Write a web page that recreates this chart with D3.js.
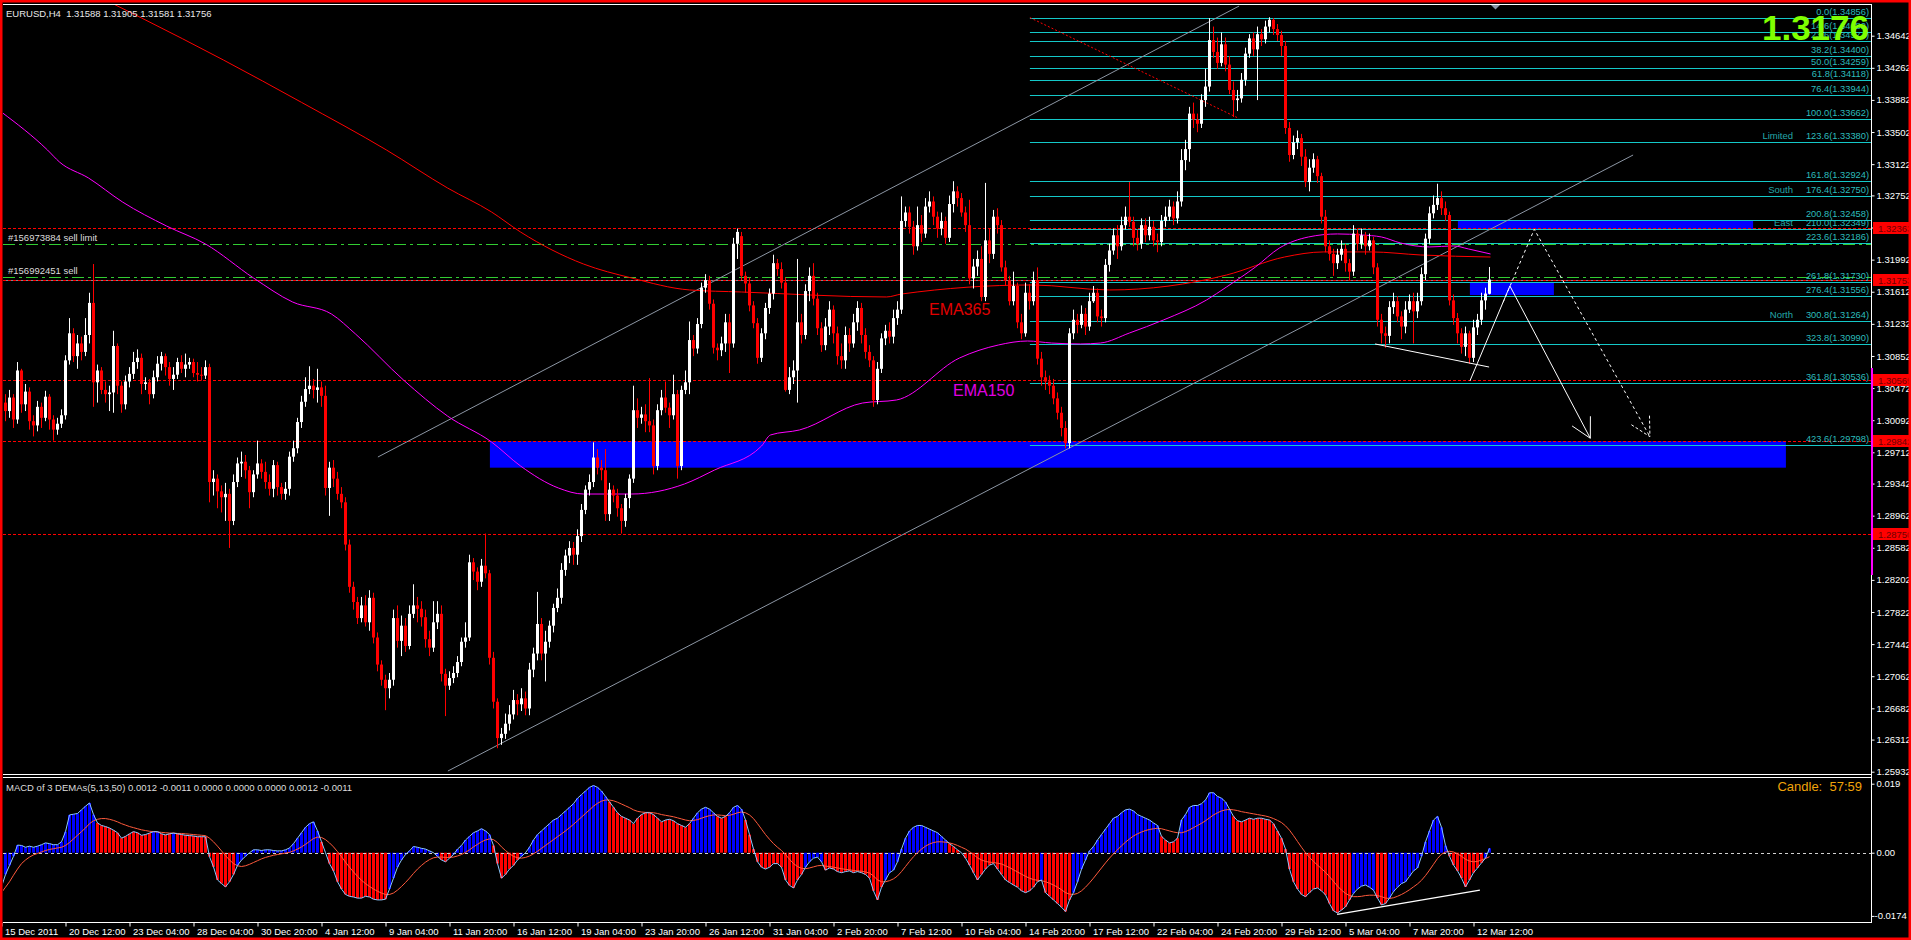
<!DOCTYPE html>
<html><head><meta charset="utf-8">
<script src="https://cdn.jsdelivr.net/npm/d3@7"></script>
<style>html,body{margin:0;padding:0;background:#000;overflow:hidden}text{font-family:"Liberation Sans",Arial,sans-serif}</style>
</head><body>
<svg id="c" width="1911" height="940"></svg>
<script>
// ---------------- DATA ----------------
const symbolHeader = "EURUSD,H4  1.31588 1.31905 1.31581 1.31756";
const opens = [
1.3012,1.3030,1.3020,1.3036,1.3010,1.3068,1.3028,1.3043,1.3008,1.3003,
1.3025,1.3012,1.3037,1.3010,1.2998,1.3005,1.3015,1.3080,1.3112,1.3085,
1.3100,1.3090,1.3110,1.3148,1.3054,1.3068,1.3045,1.3040,1.3042,1.3097,
1.3050,1.3028,1.3055,1.3064,1.3078,1.3083,1.3052,1.3054,1.3040,1.3060,
1.3076,1.3085,1.3072,1.3058,1.3063,1.3078,1.3070,1.3075,1.3078,1.3065,
1.3063,1.3062,1.3072,1.2936,1.2940,1.2925,1.2918,1.2922,1.2890,1.2936,
1.2958,1.2960,1.2950,1.2924,1.2945,1.2958,1.2948,1.2936,1.2928,1.2956,
1.2930,1.2922,1.2928,1.2966,1.2976,1.3007,1.3031,1.3046,1.3050,1.3045,
1.3048,1.3038,1.2929,1.2953,1.2940,1.2922,1.2912,1.2862,1.2812,1.2794,
1.2775,1.2790,1.2770,1.2799,1.2752,1.2720,1.2702,1.2692,1.2702,1.2775,
1.2748,1.2766,1.2742,1.2780,1.2790,1.2786,1.2776,1.2750,1.2740,1.2770,
1.2780,1.2709,1.2695,1.2704,1.2710,1.2723,1.2747,1.2752,1.2841,1.2830,
1.2818,1.2837,1.2828,1.2728,1.2676,1.2633,1.2638,1.2650,1.2661,1.2678,
1.2673,1.2680,1.2668,1.2714,1.2733,1.2768,1.2733,1.2747,1.2766,1.2787,
1.2799,1.2832,1.2849,1.2858,1.2850,1.2872,1.2903,1.2927,1.2936,1.2965,
1.2953,1.2950,1.2898,1.2927,1.2920,1.2905,1.2890,1.2917,1.2940,1.3021,
1.3012,1.3016,1.3008,1.3003,1.2955,1.3021,1.3036,1.3024,1.3015,1.3040,
1.2955,1.3045,1.3054,1.3104,1.3094,1.3123,1.3166,1.3175,1.3147,1.3095,
1.3092,1.3100,1.3125,1.3100,1.3218,
1.3227,1.3180,1.3171,1.3145,1.3124,1.3083,1.3112,1.3142,1.3159,1.3195,
1.3188,1.3172,1.3045,1.3060,1.3068,1.3125,1.3110,1.3162,1.3180,1.3153,
1.3118,1.3098,1.3120,1.3140,1.3112,1.3085,1.3080,1.3110,1.3100,1.3125,
1.3142,1.3110,1.3090,1.3080,1.3033,1.3070,1.3106,1.3115,1.3108,1.3130,
1.3140,1.3245,1.3255,1.3238,1.3215,1.3240,1.3230,1.3262,1.3268,1.3250,
1.3236,1.3245,1.3225,1.3265,1.3280,1.3272,1.3255,1.3240,1.3177,1.3191,
1.3200,1.3155,1.3222,1.3206,1.3250,1.3240,1.3190,1.3175,1.3150,1.3168,
1.3125,1.3112,1.3160,1.3150,1.3175,1.3082,1.3060,1.3055,1.3050,1.3035,
1.3018,1.3000,1.2982,1.3112,1.3128,1.3122,1.3135,1.3120,1.3150,1.3160,
1.3132,1.3130,1.3193,1.3210,1.3228,1.3215,1.3240,1.3250,1.3244,1.3225,
1.3218,1.3240,1.3228,1.3238,1.3222,1.3220,1.3245,1.3250,1.3262,1.3248,
1.3268,1.3317,1.3330,1.3372,1.3365,1.3360,1.3388,1.3404,1.3459,1.3445,
1.3432,1.3454,1.3430,1.3400,1.3388,1.3390,1.3412,1.3443,1.3461,1.3448,
1.3466,1.3460,1.3475,1.3483,1.3472,1.3465,1.3452,1.3355,1.3323,1.3338,
1.3343,1.3321,1.3291,1.3308,1.3318,1.3298,1.3250,1.3215,1.3206,1.3195,
1.3205,1.3212,1.3195,1.3185,1.3230,1.3218,1.3228,1.3215,1.3222,1.3190,
1.3128,1.3112,1.3109,1.3143,1.3150,1.3132,1.3120,1.3140,1.3150,1.3138,
1.3150,1.3182,1.3224,1.3254,1.3264,1.3272,1.3260,1.3252,1.3151,1.3130,
1.3112,1.3096,1.3112,1.3083,1.3119,1.3128,1.3151,1.31588];
const highs = [
1.3042,1.3040,1.3045,1.3040,1.3078,1.3070,1.3052,1.3048,1.3015,1.3032,
1.3030,1.3044,1.3040,1.3015,1.3012,1.3022,1.3086,1.3130,1.3118,1.3110,
1.3108,1.3130,1.3160,1.3194,1.3075,1.3072,1.3055,1.3050,1.3115,1.3100,
1.3055,1.3062,1.3072,1.3090,1.3093,1.3088,1.3060,1.3058,1.3068,1.3085,
1.3090,1.3088,1.3078,1.3072,1.3083,1.3086,1.3088,1.3083,1.3082,1.3078,
1.3072,1.3080,1.3076,1.2950,1.2945,1.2932,1.2935,1.2928,1.2945,1.2965,
1.2972,1.2968,1.2955,1.2950,1.2985,1.2963,1.2960,1.2945,1.2962,1.2960,
1.2935,1.2936,1.2972,1.2985,1.3012,1.3038,1.3060,1.3073,1.3058,1.3070,
1.3055,1.3050,1.2960,1.2962,1.2948,1.2930,1.2918,1.2868,1.2818,1.2800,
1.2800,1.2802,1.2808,1.2805,1.2758,1.2725,1.2708,1.2710,1.2785,1.2790,
1.2778,1.2775,1.2790,1.2815,1.2800,1.2795,1.2785,1.2760,1.2795,1.2795,
1.2790,1.2715,1.2712,1.2718,1.2730,1.2752,1.2770,1.2850,1.2846,1.2835,
1.2845,1.2875,1.2832,1.2735,1.2680,1.2645,1.2662,1.2672,1.2690,1.2685,
1.2692,1.2688,1.2722,1.2740,1.2806,1.2775,1.2760,1.2772,1.2792,1.2810,
1.2840,1.2856,1.2866,1.2865,1.2880,1.2910,1.2932,1.2945,1.2983,1.2975,
1.2962,1.2975,1.2935,1.2932,1.2928,1.2910,1.2922,1.2945,1.3050,1.3035,
1.3025,1.3028,1.3059,1.3010,1.3028,1.3045,1.3055,1.3030,1.3063,1.3045,
1.3050,1.3068,1.3126,1.3110,1.3130,1.3172,1.3182,1.3180,1.3152,1.3100,
1.3108,1.3135,1.3135,1.3225,1.3236,
1.3232,1.3185,1.3178,1.3150,1.3130,1.3118,1.3148,1.3165,1.3205,1.3200,
1.3196,1.3178,1.3072,1.3080,1.3200,1.3135,1.3170,1.3190,1.3195,1.3160,
1.3125,1.3130,1.3150,1.3145,1.3120,1.3100,1.3120,1.3118,1.3135,1.3150,
1.3148,1.3118,1.3098,1.3085,1.3078,1.3112,1.3122,1.3125,1.3140,1.3150,
1.3274,1.3262,1.3262,1.3245,1.3262,1.3252,1.3272,1.3280,1.3274,1.3256,
1.3255,1.3250,1.3275,1.3292,1.3286,1.3278,1.3262,1.3270,1.3200,1.3210,
1.3215,1.3290,1.3236,1.3258,1.3260,1.3246,1.3198,1.3180,1.3185,1.3172,
1.3135,1.3172,1.3170,1.3185,1.3190,1.3090,1.3068,1.3062,1.3058,1.3042,
1.3025,1.3008,1.3118,1.3140,1.3135,1.3145,1.3142,1.3160,1.3168,1.3165,
1.3140,1.3200,1.3218,1.3236,1.3240,1.3250,1.3262,1.3291,1.3250,1.3235,
1.3248,1.3248,1.3250,1.3245,1.3230,1.3252,1.3262,1.3270,1.3268,1.3280,
1.3330,1.3341,1.3380,1.3385,1.3372,1.3395,1.3425,1.3485,1.3475,1.3462,
1.3468,1.3462,1.3440,1.3410,1.3400,1.3420,1.3450,1.3466,1.3468,1.3475,
1.3472,1.3482,1.3486,1.3485,1.3478,1.3470,1.3458,1.3362,1.3346,1.3352,
1.3348,1.3330,1.3318,1.3325,1.3322,1.3302,1.3258,1.3222,1.3212,1.3212,
1.3222,1.3218,1.3200,1.3240,1.3236,1.3236,1.3232,1.3230,1.3226,1.3195,
1.3135,1.3120,1.3150,1.3160,1.3156,1.3138,1.3150,1.3158,1.3160,1.3160,
1.3190,1.3230,1.3262,1.3275,1.3289,1.3280,1.3268,1.3256,1.3158,1.3136,
1.3118,1.3120,1.3115,1.3128,1.3135,1.3160,1.3166,1.31905];
const lows = [
1.3000,1.3008,1.3012,1.3000,1.3005,1.3018,1.3020,1.2998,1.2990,1.2996,
1.3000,1.3008,1.2998,1.2985,1.2992,1.3000,1.3010,1.3075,1.3078,1.3070,
1.3080,1.3085,1.3100,1.3025,1.3030,1.3040,1.3030,1.3020,1.3018,1.3040,
1.3018,1.3022,1.3048,1.3058,1.3070,1.3040,1.3045,1.3028,1.3035,1.3055,
1.3068,1.3062,1.3050,1.3045,1.3058,1.3065,1.3060,1.3070,1.3060,1.3055,
1.3056,1.3058,1.2912,1.2920,1.2905,1.2900,1.2890,1.2858,1.2885,1.2930,
1.2942,1.2940,1.2905,1.2918,1.2940,1.2940,1.2928,1.2920,1.2918,1.2920,
1.2915,1.2915,1.2920,1.2960,1.2970,1.3000,1.3025,1.3040,1.3035,1.3030,
1.3025,1.2920,1.2896,1.2930,1.2915,1.2905,1.2855,1.2805,1.2785,1.2768,
1.2770,1.2765,1.2760,1.2745,1.2712,1.2695,1.2666,1.2680,1.2695,1.2740,
1.2730,1.2735,1.2738,1.2775,1.2770,1.2765,1.2740,1.2730,1.2735,1.2762,
1.2700,1.2659,1.2690,1.2698,1.2705,1.2718,1.2740,1.2748,1.2820,1.2808,
1.2812,1.2822,1.2720,1.2668,1.2621,1.2625,1.2632,1.2642,1.2655,1.2660,
1.2665,1.2660,1.2660,1.2705,1.2725,1.2725,1.2700,1.2740,1.2758,1.2782,
1.2792,1.2825,1.2840,1.2838,1.2838,1.2865,1.2898,1.2920,1.2930,1.2945,
1.2938,1.2890,1.2890,1.2912,1.2895,1.2875,1.2883,1.2905,1.2935,1.3000,
1.3005,1.2995,1.2995,1.2945,1.2950,1.3015,1.3018,1.3000,1.3010,1.2940,
1.2950,1.3040,1.3040,1.3085,1.3088,1.3118,1.3160,1.3140,1.3088,1.3080,
1.3085,1.3090,1.3065,1.3095,1.3200,
1.3175,1.3160,1.3138,1.3118,1.3076,1.3078,1.3105,1.3135,1.3152,1.3180,
1.3165,1.3043,1.3040,1.3052,1.3030,1.3100,1.3105,1.3150,1.3145,1.3110,
1.3090,1.3092,1.3110,1.3100,1.3075,1.3070,1.3070,1.3090,1.3095,1.3115,
1.3100,1.3082,1.3072,1.3025,1.3028,1.3065,1.3098,1.3100,1.3100,1.3122,
1.3135,1.3238,1.3230,1.3205,1.3210,1.3220,1.3225,1.3255,1.3240,1.3225,
1.3228,1.3218,1.3220,1.3255,1.3262,1.3250,1.3232,1.3170,1.3165,1.3180,
1.3150,1.3150,1.3195,1.3200,1.3230,1.3185,1.3168,1.3145,1.3145,1.3118,
1.3105,1.3108,1.3140,1.3145,1.3075,1.3050,1.3045,1.3040,1.3028,1.3010,
1.2990,1.2976,1.2976,1.3105,1.3112,1.3118,1.3110,1.3115,1.3148,1.3125,
1.3120,1.3125,1.3185,1.3205,1.3200,1.3210,1.3235,1.3238,1.3215,1.3210,
1.3212,1.3220,1.3222,1.3215,1.3208,1.3215,1.3238,1.3245,1.3240,1.3242,
1.3262,1.3305,1.3315,1.3355,1.3350,1.3355,1.3380,1.3398,1.3438,1.3425,
1.3428,1.3422,1.3395,1.3368,1.3375,1.3385,1.3405,1.3438,1.3440,1.3388,
1.3452,1.3455,1.3468,1.3465,1.3458,1.3440,1.3348,1.3315,1.3318,1.3330,
1.3310,1.3285,1.3280,1.3302,1.3290,1.3242,1.3208,1.3198,1.3180,1.3188,
1.3198,1.3185,1.3175,1.3180,1.3210,1.3212,1.3205,1.3210,1.3182,1.3120,
1.3100,1.3095,1.3100,1.3135,1.3125,1.3105,1.3112,1.3136,1.3100,1.3130,
1.3145,1.3175,1.3218,1.3248,1.3258,1.3252,1.3245,1.3145,1.3122,1.3100,
1.3088,1.3085,1.3076,1.3078,1.3110,1.3122,1.3140,1.31581];
const closes = [
1.3030,1.3020,1.3036,1.3010,1.3068,1.3028,1.3043,1.3008,1.3003,1.3025,
1.3012,1.3037,1.3010,1.2998,1.3005,1.3015,1.3080,1.3112,1.3085,1.3100,
1.3090,1.3110,1.3148,1.3054,1.3068,1.3045,1.3040,1.3042,1.3097,1.3050,
1.3028,1.3055,1.3064,1.3078,1.3083,1.3052,1.3054,1.3040,1.3060,1.3076,
1.3085,1.3072,1.3058,1.3063,1.3078,1.3070,1.3075,1.3078,1.3065,1.3063,
1.3062,1.3072,1.2936,1.2940,1.2925,1.2918,1.2922,1.2890,1.2936,1.2958,
1.2960,1.2950,1.2924,1.2945,1.2958,1.2948,1.2936,1.2928,1.2956,1.2930,
1.2922,1.2928,1.2966,1.2976,1.3007,1.3031,1.3046,1.3050,1.3045,1.3048,
1.3038,1.2929,1.2953,1.2940,1.2922,1.2912,1.2862,1.2812,1.2794,1.2775,
1.2790,1.2770,1.2799,1.2752,1.2720,1.2702,1.2692,1.2702,1.2775,1.2748,
1.2766,1.2742,1.2780,1.2790,1.2786,1.2776,1.2750,1.2740,1.2770,1.2780,
1.2709,1.2695,1.2704,1.2710,1.2723,1.2747,1.2752,1.2841,1.2830,1.2818,
1.2837,1.2828,1.2728,1.2676,1.2633,1.2638,1.2650,1.2661,1.2678,1.2673,
1.2680,1.2668,1.2714,1.2733,1.2768,1.2733,1.2747,1.2766,1.2787,1.2799,
1.2832,1.2849,1.2858,1.2850,1.2872,1.2903,1.2927,1.2936,1.2965,1.2953,
1.2950,1.2898,1.2927,1.2920,1.2905,1.2890,1.2917,1.2940,1.3021,1.3012,
1.3016,1.3008,1.3003,1.2955,1.3021,1.3036,1.3024,1.3015,1.3040,1.2955,
1.3045,1.3054,1.3104,1.3094,1.3123,1.3166,1.3175,1.3147,1.3095,1.3092,
1.3100,1.3125,1.3100,1.3218,1.3232,
1.3180,1.3171,1.3145,1.3124,1.3083,1.3112,1.3142,1.3159,1.3195,1.3188,
1.3172,1.3045,1.3060,1.3068,1.3125,1.3110,1.3162,1.3180,1.3153,1.3118,
1.3098,1.3120,1.3140,1.3112,1.3085,1.3080,1.3110,1.3100,1.3125,1.3142,
1.3110,1.3090,1.3080,1.3033,1.3070,1.3106,1.3115,1.3108,1.3130,1.3140,
1.3245,1.3255,1.3238,1.3215,1.3240,1.3230,1.3262,1.3268,1.3250,1.3236,
1.3245,1.3225,1.3265,1.3280,1.3272,1.3255,1.3240,1.3177,1.3191,1.3200,
1.3155,1.3222,1.3206,1.3250,1.3240,1.3190,1.3175,1.3150,1.3168,1.3125,
1.3112,1.3160,1.3150,1.3175,1.3082,1.3060,1.3055,1.3050,1.3035,1.3018,
1.3000,1.2982,1.3112,1.3128,1.3122,1.3135,1.3120,1.3150,1.3160,1.3132,
1.3130,1.3193,1.3210,1.3228,1.3215,1.3240,1.3250,1.3244,1.3225,1.3218,
1.3240,1.3228,1.3238,1.3222,1.3220,1.3245,1.3250,1.3262,1.3248,1.3268,
1.3317,1.3330,1.3372,1.3365,1.3360,1.3388,1.3404,1.3459,1.3445,1.3432,
1.3454,1.3430,1.3400,1.3388,1.3390,1.3412,1.3443,1.3461,1.3448,1.3466,
1.3460,1.3475,1.3483,1.3472,1.3465,1.3452,1.3355,1.3323,1.3338,1.3343,
1.3321,1.3291,1.3308,1.3318,1.3298,1.3250,1.3215,1.3206,1.3195,1.3205,
1.3212,1.3195,1.3185,1.3230,1.3218,1.3228,1.3215,1.3222,1.3190,1.3128,
1.3112,1.3109,1.3143,1.3150,1.3132,1.3120,1.3140,1.3150,1.3138,1.3150,
1.3182,1.3224,1.3254,1.3264,1.3272,1.3260,1.3252,1.3151,1.3130,1.3112,
1.3096,1.3112,1.3083,1.3119,1.3128,1.3151,1.3159,1.31756];

// MACD of 3 DEMAs (5,13,50): values in units of 0.0001
const macdMainE4 = [
-94,-60,-35,-10,21,20,15,18,15,18, 22,27,25,22,22,30,58,104,106,108,
118,128,137,105,82,75,72,68,62,55, 40,45,52,58,55,48,50,54,58,58,
52,49,52,54,52,50,48,47,46,44, 44,44,-11,-39,-75,-85,-94,-80,-60,-35,
-20,-10,0,8,8,6,8,8,6,5, 5,8,13,25,40,55,70,80,85,60,
30,0,-30,-50,-80,-100,-115,-120,-122,-125, -125,-120,-122,-128,-130,-130,-128,-100,-70,-40,
-20,-5,5,17,15,12,10,5,0,-10, -20,-25,-15,-5,10,20,35,45,55,60,
66,60,50,20,-30,-70,-60,-45,-35,-20, -10,0,15,35,50,60,70,80,90,95,
105,115,125,135,150,160,170,180,185,180, 170,155,140,125,110,100,95,90,80,95,
105,110,110,105,95,85,90,92,88,80, 75,70,80,95,110,120,125,120,110,100,
95,100,110,125,130, 120,90,50,10,-25,
-40,-45,-40,-30,-30,-40,-75,-90,-97,-75, -60,-40,-25,-15,-12,-25,-48,-42,-45,-52,
-55,-52,-50,-55,-52,-55,-60,-70,-105,-130, -95,-75,-55,-48,-25,10,40,60,70,75,
75,70,65,60,55,45,35,25,17,8, 0,-15,-34,-55,-75,-60,-45,-34,-30,-45,
-60,-75,-82,-89,-95,-105,-110,-105,-95,-80, -75,-110,-120,-130,-140,-150,-162,-130,-110,-80,
-45,-20,5,17,35,50,65,80,95,100, 110,118,120,115,105,100,95,90,82,75,
45,35,27,30,40,90,105,125,130,130, 135,145,165,165,155,150,140,120,100,88,
85,90,95,92,95,95,92,90,80,60, 40,10,-45,-80,-100,-115,-121,-110,-100,-97,
-105,-116,-140,-160,-166,-158,-149,-130,-112,-100, -92,-89,-95,-103,-125,-144,-140,-125,-107,-95,
-85,-80,-65,-50,-42,-10,30,60,90,100, 70,20,-10,-34,-50,-70,-94,-75,-55,-42,
-28,-15,12];
const macdSignalE4 = [
-110,-95,-80,-62,-45,-30,-20,-12,-6,-2, 2,6,9,11,13,15,20,28,38,48,
58,68,80,88,92,94,94,92,89,85, 80,76,72,69,66,63,61,59,58,57,
56,55,54,54,53,53,52,51,50,49, 48,47,40,30,18,5,-8,-20,-30,-36,
-38,-36,-32,-27,-22,-17,-13,-10,-7,-5, -3,-1,1,5,10,16,23,31,39,43,
42,36,27,16,3,-11,-26,-40,-53,-65, -76,-85,-93,-100,-106,-111,-115,-115,-111,-103,
-93,-82,-70,-57,-45,-35,-26,-19,-14,-12, -12,-13,-13,-12,-9,-5,1,8,16,23,
30,35,38,36,28,16,6,-3,-10,-14, -15,-13,-9,-3,4,12,20,28,36,44,
52,60,69,78,88,98,108,118,128,136, 142,145,145,143,139,134,129,124,118,114,
112,111,111,110,108,105,103,101,99,96, 93,90,88,89,91,95,99,102,104,104,
103,102,103,106,110, 112,110,104,94,80,
65,50,37,25,15,6,-5,-18,-30,-38, -43,-44,-42,-39,-36,-35,-37,-38,-40,-42,
-44,-46,-47,-49,-50,-51,-53,-56,-64,-75, -80,-80,-77,-72,-64,-52,-38,-24,-11,0,
10,18,24,28,30,30,29,27,24,20, 15,10,3,-5,-14,-20,-24,-26,-27,-29,
-31,-36,-41,-47,-53,-59,-65,-70,-74,-76, -77,-80,-84,-89,-95,-102,-110,-114,-115,-112,
-105,-95,-83,-70,-56,-42,-28,-15,-3,8, 19,29,38,46,52,57,61,64,66,67,
66,63,60,57,55,55,58,63,69,75, 81,88,96,104,110,115,118,119,118,116,
113,111,109,107,105,103,101,98,94,89, 83,74,62,47,31,15,0,-13,-24,-34,
-44,-54,-66,-79,-92,-103,-112,-118,-121,-121, -120,-118,-117,-117,-118,-121,-125,-126,-124,-120,
-115,-109,-102,-94,-86,-76,-63,-48,-32,-16, -4,2,4,2,-3,-10,-18,-23,-25,-24,
-20,-16,-11];
const macdTitle = "MACD of 3 DEMAs(5,13,50) 0.0012 -0.0011 0.0000 0.0000 0.0000 0.0012 -0.0011";

// Moving averages, sampled points (bar index, price)
const ema150Idx = [0,11.5,14.5,21.75,30.25,41.25,51,63,72.75,82.5,88.5,100.5,111.5,122.5,129.75,139.25,145.5,157.5,170.75,178.25,190,192.25,199.5,215.25,223.75,239.5,249.25,256.5,262.5,269.75,274.75,282,290.5,301.25,306.25,313.5,319.5,326.75,334,340,345,349.75,357,363,366.75,372.25];
const ema150Val = [1.33738,1.33289,1.33147,1.32958,1.32674,1.32390,1.32177,1.31775,1.31491,1.31348,1.31112,1.30567,1.30141,1.29834,1.29550,1.29289,1.29218,1.29218,1.29337,1.29502,1.29786,1.29917,1.29976,1.30295,1.30331,1.30828,1.30982,1.31029,1.31005,1.30994,1.31005,1.31124,1.31278,1.31514,1.31668,1.31905,1.32130,1.32260,1.32296,1.32284,1.32260,1.32189,1.32142,1.32154,1.32118,1.32059];
const ema365Idx = [28,35,55.5,75,96.25,111.5,122.5,129.75,145.5,157.5,172,185,221.25,225,257.75,277,306.25,320.75,330.5,342.5,354.75,372.25];
const ema365Val = [1.35017,1.34852,1.34354,1.33853,1.33289,1.32840,1.32556,1.32319,1.31940,1.31775,1.31633,1.31609,1.31550,1.31585,1.31692,1.31633,1.31810,1.32023,1.32083,1.32083,1.32047,1.32023];

// Axes
const priceTicks = [1.34642,1.34262,1.33882,1.33502,1.33122,1.32752,1.32372,1.31992,1.31612,1.31232,1.30852,1.30472,1.30092,1.29712,1.29342,1.28962,1.28582,1.28202,1.27822,1.27442,1.27062,1.26682,1.26312,1.25932];
const timeLabels = ["15 Dec 2011","20 Dec 12:00","23 Dec 04:00","28 Dec 04:00","30 Dec 20:00","4 Jan 12:00","9 Jan 04:00","11 Jan 20:00","16 Jan 12:00","19 Jan 04:00","23 Jan 20:00","26 Jan 12:00","31 Jan 04:00","2 Feb 20:00","7 Feb 12:00","10 Feb 04:00","14 Feb 20:00","17 Feb 12:00","22 Feb 04:00","24 Feb 20:00","29 Feb 12:00","5 Mar 04:00","7 Mar 20:00","12 Mar 12:00"];
const timeLabelIdx = [0,16,32,48,64,80,96,112,128,144,160,176,192,208,224,240,256,272,288,304,320,336,352,368];
const macdTicks = [0.019,0,-0.0174];
const macdTickText = ["0.019","0.00","-0.0174"];

// Fibonacci expansion
const fibLevels = ["0.0","14.6","23.6","38.2","50.0","61.8","76.4","100.0","123.6","161.8","176.4","200.8","210.0","223.6","261.8","276.4","300.8","323.8","361.8","423.6"];
const fibPrices = [1.34856,1.34682,1.34574,1.34400,1.34259,1.34118,1.33944,1.33662,1.33380,1.32924,1.32750,1.32458,1.32349,1.32186,1.31730,1.31556,1.31264,1.30990,1.30536,1.29798];
const fibTagLevels = ["123.6","176.4","210.0","300.8"];
const fibTagNames = ["Limited","South","East","North"];
const fibStartIdx = 257.1;
const fibBaseLine = [[257.1,1.34856],[309.4,1.33662]];

// Levels / orders
const redLevels = [1.32363,1.31753,1.30569,1.29842,1.28750];
const orderPrices = [1.32177,1.31790];
const orderLabels = ["#156973884 sell limit","#156992451 sell"];
const bidPrice = 1.31756;

// Zones (bar index range, price range)
const zoneStart = [122.1,364.1,367.1];
const zoneEnd = [446.1,437.9,388.1];
const zoneTop = [1.29842,1.32458,1.31719];
const zoneBottom = [1.29530,1.32349,1.31573];

// Trend lines (bar index, price)
const channelUpper = [[94.1,1.29656],[309.4,1.34993]];
const channelLower = [[111.6,1.25940],[407.9,1.33230]];
const supportLine = [[343.4,1.30994],[371.9,1.30721]];
const arrowSolid = [[367.1,1.30556],[377.1,1.31680],[397.2,1.29878]];
const arrowDashed = [[375.4,1.31487],[383.2,1.32351],[412.1,1.29897]];
const macdDivergence = [[333.9,-0.01697],[369.6,-0.01028]];

// ---------------- DRAW ----------------
const W = 1911, H = 940;
const svg = d3.select("#c");
svg.append("rect").attr("width", W).attr("height", H).attr("fill", "#000");

const x = d3.scaleLinear().domain([0, 1]).range([1.5, 5.5]);
const y = d3.scaleLinear().domain([1.34642, 1.25932]).range([35.7, 771.7]);
const ym = d3.scaleLinear().domain([0.019, -0.0174]).range([783.7, 915.9]);
const AX = 1872;

const defs = svg.append("defs");
defs.append("clipPath").attr("id", "mc").append("rect").attr("x", 3).attr("y", 5).attr("width", AX - 3).attr("height", 769);
defs.append("clipPath").attr("id", "dc").append("rect").attr("x", 3).attr("y", 778).attr("width", AX - 3).attr("height", 144);

const main = svg.append("g").attr("clip-path", "url(#mc)");

// zones
main.selectAll("rect.zone").data(zoneStart).join("rect")
  .attr("x", (d, i) => x(d)).attr("width", (d, i) => x(zoneEnd[i]) - x(d))
  .attr("y", (d, i) => y(zoneTop[i])).attr("height", (d, i) => y(zoneBottom[i]) - y(zoneTop[i]))
  .attr("fill", "#0000ff");

// fib lines
main.selectAll("line.fib").data(fibPrices).join("line")
  .attr("x1", x(fibStartIdx)).attr("x2", AX)
  .attr("y1", d => Math.round(y(d)) + 0.5).attr("y2", d => Math.round(y(d)) + 0.5)
  .attr("stroke", "#14c8c8").attr("stroke-width", 1);

// bid line
main.append("line").attr("x1", 3).attr("x2", AX).attr("y1", Math.round(y(bidPrice)) + 0.5).attr("y2", Math.round(y(bidPrice)) + 0.5)
  .attr("stroke", "#7f8790").attr("stroke-width", 1);

// red dashed levels
main.selectAll("line.lvl").data(redLevels).join("line")
  .attr("x1", 3).attr("x2", AX)
  .attr("y1", d => Math.round(y(d)) + 0.5).attr("y2", d => Math.round(y(d)) + 0.5)
  .attr("stroke", "#ff0000").attr("stroke-width", 1).attr("stroke-dasharray", "3,2");

// order lines (green dash-dot)
main.selectAll("line.ord").data(orderPrices).join("line")
  .attr("x1", 3).attr("x2", AX)
  .attr("y1", d => Math.round(y(d)) + 0.5).attr("y2", d => Math.round(y(d)) + 0.5)
  .attr("stroke", "#32cd32").attr("stroke-width", 1).attr("stroke-dasharray", "12,4,3,4");

const ptLine = d3.line().x(d => x(d[0])).y(d => y(d[1]));

// channels
[channelUpper, channelLower].forEach(c => {
  main.append("path").attr("d", ptLine(c)).attr("fill", "none").attr("stroke", "#8c96a4").attr("stroke-width", 1);
});
// fib baseline (red dotted)
main.append("path").attr("d", ptLine(fibBaseLine)).attr("fill", "none").attr("stroke", "#ff0000").attr("stroke-width", 1).attr("stroke-dasharray", "2,2");

// EMAs
const emaLine = d3.line().x(d => x(d[0])).y(d => y(d[1])).curve(d3.curveMonotoneX);
main.append("path").attr("d", emaLine(ema365Idx.map((d, i) => [d, ema365Val[i]])))
  .attr("fill", "none").attr("stroke", "#ff0000").attr("stroke-width", 1);
main.append("path").attr("d", emaLine(ema150Idx.map((d, i) => [d, ema150Val[i]])))
  .attr("fill", "none").attr("stroke", "#ff00ff").attr("stroke-width", 1);

// candles
const bars = d3.range(closes.length);
const cg = main.append("g");
cg.selectAll("line.wick").data(bars).join("line")
  .attr("x1", i => x(i)).attr("x2", i => x(i))
  .attr("y1", i => y(highs[i])).attr("y2", i => y(lows[i]))
  .attr("stroke", i => closes[i] >= opens[i] ? "#ffffff" : "#ff0000").attr("stroke-width", 1);
cg.selectAll("rect.body").data(bars).join("rect")
  .attr("x", i => x(i) - 1.5).attr("width", 3)
  .attr("y", i => y(Math.max(opens[i], closes[i])))
  .attr("height", i => Math.max(1, Math.abs(y(opens[i]) - y(closes[i]))))
  .attr("fill", i => closes[i] >= opens[i] ? "#ffffff" : "#ff0000");

// support + arrows
main.append("path").attr("d", ptLine(supportLine)).attr("fill", "none").attr("stroke", "#ffffff").attr("stroke-width", 1);
main.append("path").attr("d", ptLine(arrowSolid)).attr("fill", "none").attr("stroke", "#ffffff").attr("stroke-width", 1);
main.append("path").attr("d", ptLine(arrowDashed)).attr("fill", "none").attr("stroke", "#ffffff").attr("stroke-width", 1).attr("stroke-dasharray", "3,3");
function head(pts, dashed) {
  const a = pts[pts.length - 2], b = pts[pts.length - 1];
  const tx = x(b[0]), ty = y(b[1]), fx = x(a[0]), fy = y(a[1]);
  const ang = Math.atan2(fy - ty, fx - tx), L = 22, s = 0.49;
  const p = [[tx + L * Math.cos(ang - s), ty + L * Math.sin(ang - s)], [tx, ty], [tx + L * Math.cos(ang + s), ty + L * Math.sin(ang + s)]];
  main.append("path").attr("d", d3.line()(p)).attr("fill", "none").attr("stroke", "#fff").attr("stroke-width", 1)
    .attr("stroke-dasharray", dashed ? "3,2" : null);
}
head(arrowSolid, false); head(arrowDashed, true);

// text in main chart
const T = svg.append("g");
T.append("text").attr("x", 6).attr("y", 17).attr("fill", "#e8e8e8").attr("font-size", 9.5).style("white-space", "pre").text(symbolHeader);
orderLabels.forEach((t, i) => {
  T.append("text").attr("x", 8).attr("y", Math.round(y(orderPrices[i])) - 3).attr("fill", "#dcdcdc").attr("font-size", 9.5).text(t);
});
fibPrices.forEach((p, i) => {
  T.append("text").attr("x", 1869).attr("y", Math.round(y(p)) - 3).attr("text-anchor", "end")
    .attr("fill", "#2cbcbc").attr("font-size", 9.3).text(fibLevels[i] + "(" + p.toFixed(5) + ")");
  const k = fibTagLevels.indexOf(fibLevels[i]);
  if (k >= 0) T.append("text").attr("x", 1793).attr("y", Math.round(y(p)) - 3).attr("text-anchor", "end")
    .attr("fill", "#24a8a8").attr("font-size", 9.5).text(fibTagNames[k]);
});
T.append("text").attr("x", 929).attr("y", 315).attr("fill", "#e00000").attr("font-size", 16)
  .attr("font-family", "'Liberation Sans Narrow','Arial Narrow',sans-serif").text("EMA365");
T.append("text").attr("x", 953).attr("y", 396).attr("fill", "#e000e0").attr("font-size", 16)
  .attr("font-family", "'Liberation Sans Narrow','Arial Narrow',sans-serif").text("EMA150");
T.append("text").attr("x", 1869).attr("y", 40).attr("text-anchor", "end").attr("fill", "#7fff00")
  .attr("font-size", 35).attr("font-weight", "bold").text(closes[closes.length - 1].toFixed(4));
// shift marker
T.append("path").attr("d", "M1491,5L1500,5L1495.5,9.5Z").attr("fill", "#8a96a8");

// ---------------- MACD panel ----------------
const mg = svg.append("g").attr("clip-path", "url(#dc)");
const macd = macdMainE4.map(v => v / 10000), sig = macdSignalE4.map(v => v / 10000);
mg.selectAll("rect.h").data(d3.range(macd.length)).join("rect")
  .attr("x", i => x(i) - 1.5).attr("width", 3)
  .attr("y", i => Math.min(ym(0), ym(macd[i]))).attr("height", i => Math.abs(ym(macd[i]) - ym(0)))
  .attr("fill", i => macd[i] >= sig[i] ? "#0000ff" : "#ff0000");
mg.append("line").attr("x1", 3).attr("x2", AX).attr("y1", Math.round(ym(0)) + 0.5).attr("y2", Math.round(ym(0)) + 0.5)
  .attr("stroke", "#d0d0d0").attr("stroke-dasharray", "3,3");
const ml = d3.line().x((d, i) => x(i)).y(d => ym(d));
mg.append("path").attr("d", ml(sig)).attr("fill", "none").attr("stroke", "#ff5a3c").attr("stroke-width", 1);
mg.append("path").attr("d", ml(macd)).attr("fill", "none").attr("stroke", "#8cc8ff").attr("stroke-width", 1);
mg.append("path").attr("d", d3.line().x(d => x(d[0])).y(d => ym(d[1]))(macdDivergence)).attr("fill", "none").attr("stroke", "#fff").attr("stroke-width", 1.2);
svg.append("text").attr("x", 6).attr("y", 791).attr("fill", "#dedede").attr("font-size", 9.5).text(macdTitle);
svg.append("text").attr("x", 1862).attr("y", 791).attr("text-anchor", "end").attr("fill", "#f0a30a").attr("font-size", 13).style("white-space", "pre").text("Candle:  57:59");

// ---------------- frame & axes ----------------
const fr = svg.append("g").attr("stroke", "#ffffff").attr("stroke-width", 1);
fr.append("line").attr("x1", 3).attr("x2", AX).attr("y1", 4.5).attr("y2", 4.5);
fr.append("line").attr("x1", 3).attr("x2", AX).attr("y1", 774.5).attr("y2", 774.5);
fr.append("line").attr("x1", 3).attr("x2", AX).attr("y1", 777.5).attr("y2", 777.5);
fr.append("line").attr("x1", 3).attr("x2", AX).attr("y1", 922.5).attr("y2", 922.5);
fr.append("line").attr("x1", AX - 0.5).attr("x2", AX - 0.5).attr("y1", 4.5).attr("y2", 922.5);

function styleAxis(g) {
  g.select(".domain").remove();
  g.selectAll(".tick line").attr("stroke", "#ffffff");
  g.selectAll(".tick text").attr("fill", "#ffffff").attr("font-size", 9.5).attr("font-family", "'Liberation Sans',Arial,sans-serif");
}
const yAxis = svg.append("g").attr("transform", `translate(${AX - 0.5},0)`)
  .call(d3.axisRight(y).tickValues(priceTicks).tickFormat(d3.format(".5f")).tickSize(3).tickPadding(2));
styleAxis(yAxis);
const mAxis = svg.append("g").attr("transform", `translate(${AX - 0.5},0)`)
  .call(d3.axisRight(ym).tickValues(macdTicks).tickFormat((d, i) => macdTickText[i]).tickSize(3).tickPadding(2));
styleAxis(mAxis);
mAxis.selectAll(".tick text").filter((d, i) => i === 2).attr("x", 3);
const xAxis = svg.append("g").attr("transform", "translate(0,922.5)")
  .call(d3.axisBottom(x).tickValues(timeLabelIdx).tickFormat((d, i) => timeLabels[i]).tickSize(4));
styleAxis(xAxis);
xAxis.selectAll(".tick text").attr("text-anchor", "start").attr("x", 3).attr("y", 5.5).attr("dy", "0.71em");

// red price tags on axis
redLevels.forEach(p => {
  const yy = Math.round(y(p));
  svg.append("rect").attr("x", AX + 1).attr("y", yy - 6).attr("width", 38).attr("height", 12).attr("fill", "#ff0000");
  svg.append("text").attr("x", AX + 6).attr("y", yy + 4).attr("fill", "#6e0000").attr("font-size", 9.5).text(p.toFixed(5));
});
// magenta range bar on axis
svg.append("rect").attr("x", AX - 1).attr("y", 368).attr("width", 2).attr("height", 207).attr("fill", "#ff00ff");

// window frame
svg.append("rect").attr("x", 1.25).attr("y", 1.25).attr("width", W - 2.5).attr("height", H - 2.5)
  .attr("fill", "none").attr("stroke", "#ff0000").attr("stroke-width", 2.5);
</script>
</body></html>
